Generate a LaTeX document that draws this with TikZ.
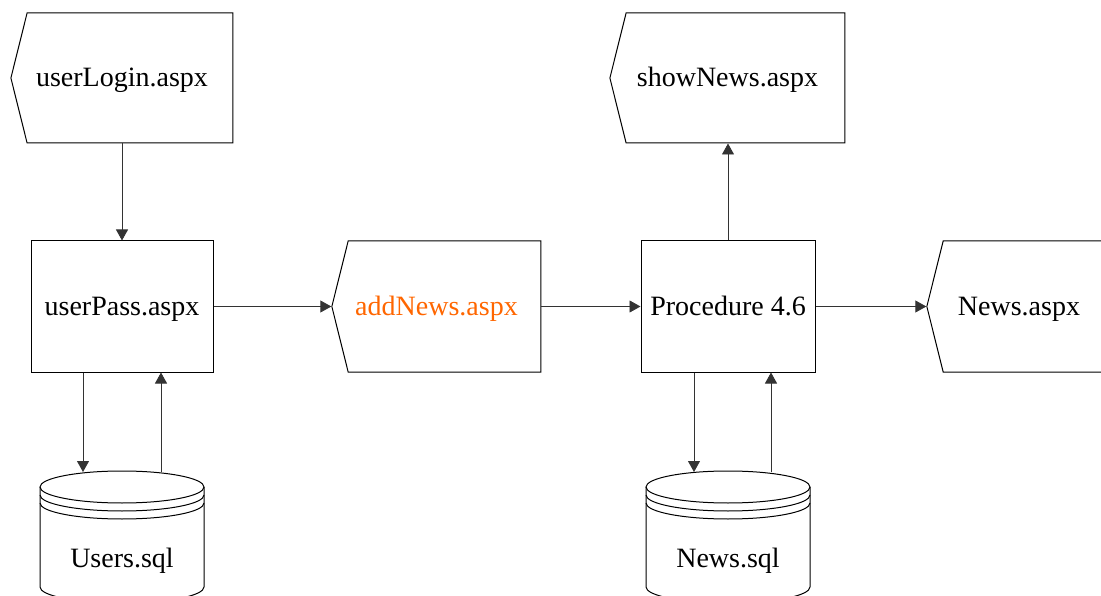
\documentclass[tikz,border=0pt]{standalone}
\usepackage{fontspec}
\setmainfont{Liberation Serif}
\usetikzlibrary{arrows.meta,shapes.symbols}
\definecolor{webpage}{RGB}{255,102,0}
\tikzset{x=1pt, y=-1pt, % pixel coordinates, y going down
        every node/.style={font=\fontsize{28}{32}\selectfont, inner sep=0pt,
            text height=19pt, text depth=1pt},
        page/.style={ % web pages, pointed at the left
            draw, line width=1pt, signal, signal to=west,
            signal pointer angle=152, minimum height=130pt,
            execute at begin node=\hspace*{-16pt}},
        proc/.style={draw, line width=1pt, rectangle, minimum height=131pt},
        dbline/.style={draw, line width=1pt},
        flow/.style={ % connectors
            draw=black!80, line width=0.9pt,
            -{Triangle[length=11pt,width=12pt]}}
        }
% database drum: name, x of centre, label
\newcommand{\database}[3]{
    \draw[dbline] (#2-82,487) -- (#2-82,587) arc (180:0:82 and 16) -- (#2+82,487);
    \draw[dbline] (#2,487) ellipse [x radius=82, y radius=16];
    \draw[dbline] (#2-82,495) arc (180:0:82 and 16);
    \draw[dbline] (#2-82,503) arc (180:0:82 and 16);
    \node (#1) at (#2,558) {#3};
}

\begin{document}
\begin{tikzpicture}
    \useasboundingbox (0,0) rectangle (1101,596);

    \node[page, minimum width=222pt] (userlogin) at (130,78) {userLogin.aspx};
    \node[page, minimum width=235pt] (shownews) at (735.5,78) {showNews.aspx};
    \node[proc, minimum width=182pt] (userpass) at (122,306.5) {userPass.aspx};
    \node[page, minimum width=209pt, minimum height=131pt, text=webpage] (addnews) at (444.5,306.5) {addNews.aspx};
    \node[proc, minimum width=174pt] (procedure) at (728,306.5) {Procedure 4.6};
    \node[page, minimum width=184pt, minimum height=131pt] (newspage) at (1027,306.5) {News.aspx};

    \database{userssql}{122}{Users.sql}
    \database{newssql}{728}{News.sql}
    \coordinate (userstop) at (122,472);
    \coordinate (newstop) at (728,472);

    \draw[flow] (userlogin.south -| userpass) -- (userpass);
    \draw[flow] (userpass) -- (addnews.west);
    \draw[flow] (addnews) -- (procedure);
    \draw[flow] (procedure) -- (procedure |- shownews.south);
    \draw[flow] (procedure) -- (newspage.west);

    \draw[flow] ([xshift=-39pt]userpass.south) -- ([xshift=-39pt]userstop);
    \draw[flow] ([xshift=39pt]userstop) -- ([xshift=39pt]userpass.south);
    \draw[flow] ([xshift=-34pt]procedure.south) -- ([xshift=-34pt]newstop);
    \draw[flow] ([xshift=43pt]newstop) -- ([xshift=43pt]procedure.south);
\end{tikzpicture}
\end{document}
